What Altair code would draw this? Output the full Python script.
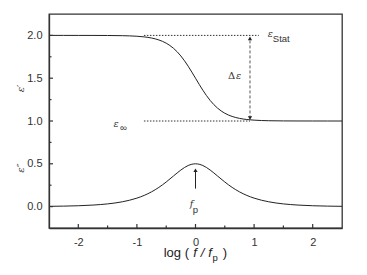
import altair as alt
import pandas as pd

# ---- data ----
x_vals = [-2.5, -2.25, -2.0, -1.75, -1.5, -1.25, -1.0, -0.875, -0.75, -0.625, -0.5, -0.375, -0.25, -0.125,
          0.0, 0.125, 0.25, 0.375, 0.5, 0.625, 0.75, 0.875, 1.0, 1.25, 1.5, 1.75, 2.0, 2.25, 2.5]
eps_real = [2.000, 2.000, 1.9999, 1.9997, 1.9990, 1.9968, 1.9901, 1.9825, 1.9693, 1.9468, 1.9091, 1.8490, 1.7598, 1.6401,
            1.5000, 1.3599, 1.2402, 1.1510, 1.0909, 1.0532, 1.0307, 1.0175, 1.0099, 1.0032, 1.0010, 1.0003, 1.0001, 1.0000, 1.0000]
eps_imag = [0.0032, 0.0056, 0.0100, 0.0178, 0.0316, 0.0561, 0.0990, 0.1310, 0.1724, 0.2245, 0.2875, 0.3580, 0.4272, 0.4800,
            0.5000, 0.4800, 0.4272, 0.3580, 0.2875, 0.2245, 0.1724, 0.1310, 0.0990, 0.0561, 0.0316, 0.0178, 0.0100, 0.0056, 0.0032]

x_major = [-2, -1, 0, 1, 2]
x_minor = [-1.5, -0.5, 0.5, 1.5]
y_major = [0.0, 0.5, 1.0, 1.5, 2.0]
y_minor = [0.25, 0.75, 1.25, 1.75]

# dotted reference levels: start, end, level
ref_x = [-0.88, -0.88]
ref_x2 = [1.08, 0.93]
ref_y = [2.0, 1.0]

# delta-eps arrow
de_x = 0.93
de_lo, de_hi = 1.0, 2.0
# f_p arrow
fp_x = 0.0
fp_lo, fp_hi = 0.21, 0.46

W, H = 293, 214
INK = "#333333"
xs = alt.Scale(domain=[-2.5, 2.5], nice=False, zero=False)
ys = alt.Scale(domain=[-0.25, 2.25], nice=False, zero=False)

X = lambda: alt.X("x:Q", scale=xs)
Y = lambda: alt.Y("y:Q", scale=ys)

curve1 = pd.DataFrame({"x": x_vals, "y": eps_real})
curve2 = pd.DataFrame({"x": x_vals, "y": eps_imag})

line1 = alt.Chart(curve1).mark_line(color="#222222", strokeWidth=1, interpolate="monotone").encode(
    x=alt.X("x:Q", scale=xs, axis=alt.Axis(values=x_major, ticks=False, grid=False, title=None,
                                          labelPadding=8, labelExpr="'' + datum.value")),
    y=alt.Y("y:Q", scale=ys, axis=alt.Axis(values=y_major, ticks=False, grid=False, title=None,
                                          format=".1f", labelPadding=7)),
)
line2 = alt.Chart(curve2).mark_line(color="#222222", strokeWidth=1, interpolate="monotone").encode(x=X(), y=Y())

# inward ticks
xt_major = alt.Chart(pd.DataFrame({"x": x_major})).mark_rule(color=INK, strokeWidth=1.2).encode(
    x=X(), y=alt.value(H), y2=alt.value(H - 4))
xt_minor = alt.Chart(pd.DataFrame({"x": x_minor})).mark_rule(color=INK, strokeWidth=1.2).encode(
    x=X(), y=alt.value(H), y2=alt.value(H - 2.5))
yt_major = alt.Chart(pd.DataFrame({"y": y_major})).mark_rule(color=INK, strokeWidth=1.2).encode(
    y=Y(), x=alt.value(0), x2=alt.value(4))
yt_minor = alt.Chart(pd.DataFrame({"y": y_minor})).mark_rule(color=INK, strokeWidth=1.2).encode(
    y=Y(), x=alt.value(0), x2=alt.value(2.5))

refs = alt.Chart(pd.DataFrame({"x": ref_x, "x2": ref_x2, "y": ref_y})).mark_rule(
    color=INK, strokeWidth=1, strokeDash=[1.5, 1.5]).encode(x=X(), x2="x2:Q", y=Y())

de_line = alt.Chart(pd.DataFrame({"x": [de_x], "y": [de_lo + 0.03], "y2": [de_hi - 0.03]})).mark_rule(
    color="#555555", strokeWidth=1, strokeDash=[3, 2]).encode(x=X(), y=Y(), y2="y2:Q")
de_heads = alt.Chart(pd.DataFrame({"x": [de_x, de_x], "y": [de_hi - 0.035, de_lo + 0.035],
                                   "s": ["triangle-up", "triangle-down"]})).mark_point(
    filled=True, color="#222222", size=18, opacity=1).encode(
    x=X(), y=Y(), shape=alt.Shape("s:N", scale=None, legend=None))

fp_line = alt.Chart(pd.DataFrame({"x": [fp_x], "y": [fp_lo], "y2": [fp_hi - 0.03]})).mark_rule(
    color="#222222", strokeWidth=1).encode(x=X(), y=Y(), y2="y2:Q")
fp_head = alt.Chart(pd.DataFrame({"x": [fp_x], "y": [fp_hi - 0.035]})).mark_point(
    filled=True, color="#222222", size=18, opacity=1, shape="triangle-up").encode(x=X(), y=Y())

# annotation texts
greek = alt.Chart(pd.DataFrame({"x": [1.235, -1.40, 0.69, -0.10],
                                "y": [2.012, 0.965, 1.53, 0.03],
                                "t": ["ε", "ε", "ε", "f"]})).mark_text(
    font="DejaVu Serif", fontStyle="italic", fontSize=9.5, color="#333333", align="left", baseline="middle").encode(
    x=X(), y=Y(), text="t:N")
delta = alt.Chart(pd.DataFrame({"x": [0.555], "y": [1.53], "t": ["Δ"]})).mark_text(
    font="DejaVu Serif", fontSize=10, color="#333333", align="left", baseline="middle").encode(
    x=X(), y=Y(), text="t:N")
subs = alt.Chart(pd.DataFrame({"x": [1.32, -1.29, -0.045],
                               "y": [1.955, 0.92, -0.04],
                               "t": ["Stat", "∞", "p"]})).mark_text(
    font="Liberation Sans", fontSize=9.5, color="#333333", align="left", baseline="middle").encode(
    x=X(), y=Y(), text="t:N")

ylab = alt.Chart(pd.DataFrame({"y": [1.38, 0.45], "t": ["ε′", "ε″"]})).mark_text(
    font="DejaVu Serif", fontStyle="italic", fontSize=10, color="#333333", angle=270,
    align="center", baseline="middle").encode(x=alt.value(-28), y=Y(), text="t:N")

# x axis title pieces (log ( f / f_p ))
TB = H + 29
t_style = dict(font="Liberation Sans", fontSize=13, color="#222222", baseline="alphabetic")
title_a = alt.Chart(pd.DataFrame({"t": ["log ("]})).mark_text(align="right", **t_style).encode(
    x=alt.value(140), y=alt.value(TB), text="t:N")
title_b = alt.Chart(pd.DataFrame({"t": ["f", "/", "f"], "px": [146, 153.5, 161]})).mark_text(
    align="center", fontStyle="italic", **t_style).encode(
    x=alt.X("px:Q", scale=None), y=alt.value(TB), text="t:N")
title_c = alt.Chart(pd.DataFrame({"t": ["p"]})).mark_text(
    align="left", font="Liberation Sans", fontSize=9.5, color="#222222", baseline="alphabetic").encode(
    x=alt.value(163.5), y=alt.value(TB + 4), text="t:N")
title_d = alt.Chart(pd.DataFrame({"t": [")"]})).mark_text(align="center", **t_style).encode(
    x=alt.value(176), y=alt.value(TB), text="t:N")

chart = alt.layer(
    line1, line2, xt_major, xt_minor, yt_major, yt_minor, refs, de_line, de_heads, fp_line, fp_head,
    greek, delta, subs, ylab, title_a, title_b, title_c, title_d
).properties(
    width=W, height=H,
    autosize=alt.AutoSizeParams(type="none"),
    padding={"left": 41, "top": 6, "right": 17, "bottom": 45},
).configure_view(
    stroke=INK, strokeWidth=1.3
).configure_axis(
    domainColor=INK, domainWidth=1.3, labelColor="#333333", labelFont="Liberation Sans", labelFontSize=11
)

chart.save("out.html", embed_options={"renderer": "svg", "actions": False})
